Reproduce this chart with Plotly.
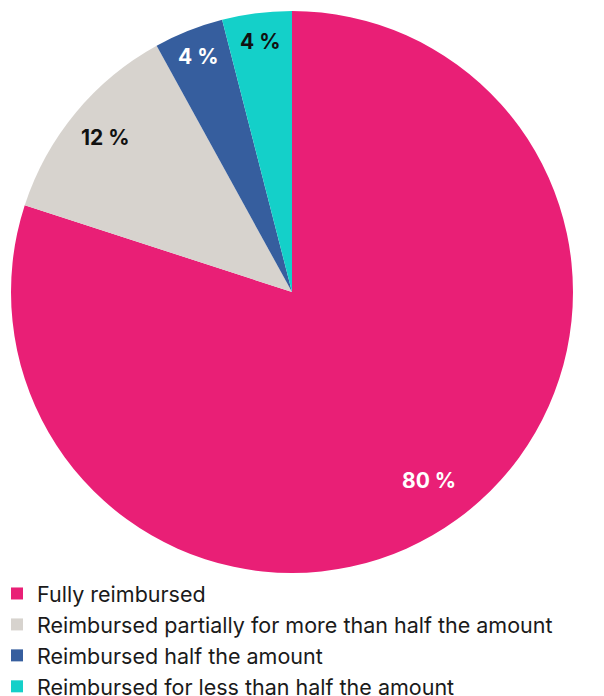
import math
import plotly.graph_objects as go

# Share of cases by reimbursement outcome (percent)
categories = [
    "Fully reimbursed",
    "Reimbursed partially for more than half the amount",
    "Reimbursed half the amount",
    "Reimbursed for less than half the amount",
]
values = [80, 12, 4, 4]

colors = ["#E91F76", "#D7D3CE", "#365E9E", "#14D0C9"]
label_colors = ["#FFFFFF", "#111111", "#FFFFFF", "#111111"]
label_radius = [0.83, 0.86, 0.90, 0.90]

fig = go.Figure(
    go.Pie(
        labels=categories,
        values=values,
        sort=False,
        direction="clockwise",
        rotation=0,
        marker=dict(colors=colors, line=dict(width=0)),
        textinfo="none",
        hoverinfo="label+value",
        domain=dict(x=[0, 1], y=[0, 1]),
    )
)

# Percentage labels placed at each slice's mid-angle
total = sum(values)
cum = 0
for v, c, r in zip(values, label_colors, label_radius):
    mid = (cum + v / 2) / total * 2 * math.pi
    cum += v
    fig.add_annotation(
        x=0.5 + 0.5 * r * math.sin(mid),
        y=0.5 + 0.5 * r * math.cos(mid),
        xref="paper",
        yref="paper",
        xanchor="center",
        yanchor="middle",
        text=f"<b>{v} %</b>",
        showarrow=False,
        font=dict(family="Inter, sans-serif", size=21, color=c),
    )

plot_px = 562
fig.update_layout(
    width=604,
    height=696,
    margin=dict(l=11, r=31, t=11, b=123, autoexpand=False),
    paper_bgcolor="white",
    plot_bgcolor="white",
    showlegend=True,
    legend=dict(
        orientation="v",
        x=-14 / plot_px,
        xanchor="left",
        y=0,
        yanchor="top",
        font=dict(family="Inter, sans-serif", size=21.5, color="#1A1A1A"),
        itemclick=False,
        bgcolor="rgba(0,0,0,0)",
    ),
)

fig.write_html("out.html")
